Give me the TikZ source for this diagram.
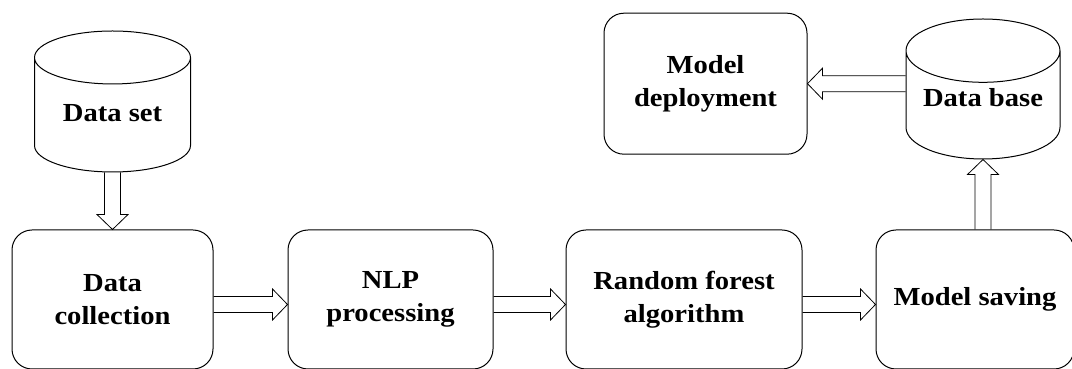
\documentclass[tikz,border=0pt]{standalone}
\usepackage{fontspec}
\setmainfont{Liberation Serif}[FakeStretch=1.1]
\usetikzlibrary{shapes.geometric, positioning, calc}
\tikzstyle{process} = [rectangle, rounded corners=20pt, minimum height=139pt, text centered, align=center, draw=black, line width=1pt, font=\bfseries\fontsize{26}{33}\selectfont]
\tikzstyle{storage} = [cylinder, shape border rotate=90, aspect=0.5, minimum width=156pt, minimum height=141pt, text centered, draw=black, line width=1pt, font=\bfseries\fontsize{26}{33}\selectfont]
\tikzstyle{bigarrow} = [draw=black, line width=0.8pt, to path={
    ($(\tikztostart)!8pt!90:(\tikztotarget)$)
    -- ($(\tikztotarget)!15pt!(\tikztostart)!8pt!-90:(\tikztostart)$)
    -- ($(\tikztotarget)!15pt!(\tikztostart)!15.5pt!-90:(\tikztostart)$)
    -- (\tikztotarget)
    -- ($(\tikztotarget)!15pt!(\tikztostart)!15.5pt!90:(\tikztostart)$)
    -- ($(\tikztotarget)!15pt!(\tikztostart)!8pt!90:(\tikztostart)$)
    -- ($(\tikztostart)!8pt!-90:(\tikztotarget)$)}]

\begin{document}
\begin{tikzpicture}[x=1pt, y=1pt]
    \useasboundingbox (0,0) rectangle (1072,369);

    % Bloques del flujo
    \node (dc) [process, minimum width=201pt] at (112.5,69.5) {Data\\collection};
    \node (nlp) [process, minimum width=205pt, right=74pt of dc] {NLP\\processing};
    \node (rf) [process, minimum width=236pt, right=72pt of nlp] {Random forest\\algorithm};
    \node (ms) [process, minimum width=198pt, right=73pt of rf] {Model saving};
    \node (ds) [storage, text depth=12pt, above=57pt of dc] {Data set};
    \node (db) [storage, text depth=24pt, minimum width=154pt, minimum height=140pt, above=70pt of ms, xshift=8pt] {Data base};
    \node (dep) [process, minimum width=203pt, minimum height=141pt, left=98pt of db, yshift=26pt] {Model\\deployment};

    % Flechas entre bloques
    \draw [bigarrow] (ds.south) to (dc.north);
    \draw [bigarrow] ([yshift=-5pt]dc.east) to ([yshift=-5pt]nlp.west);
    \draw [bigarrow] ([yshift=-5pt]nlp.east) to ([yshift=-5pt]rf.west);
    \draw [bigarrow] ([yshift=-5pt]rf.east) to ([yshift=-5pt]ms.west);
    \draw [bigarrow] (db.south |- ms.north) to (db.south);
    \draw [bigarrow] (dep.east -| db.west) to (dep.east);

\end{tikzpicture}
\end{document}
